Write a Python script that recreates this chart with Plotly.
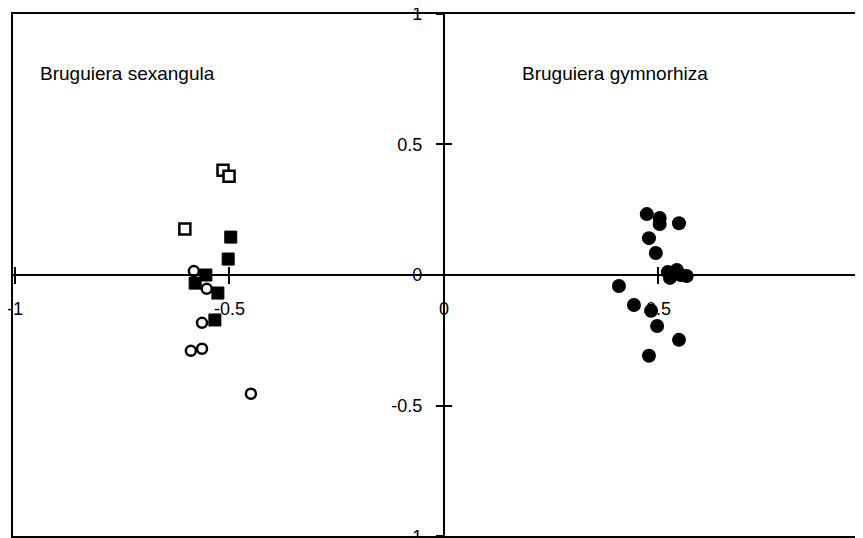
import plotly.graph_objects as go

# ---- data ----
open_sq_x = [-0.515, -0.501, -0.604]
open_sq_y = [0.401, 0.378, 0.176]

filled_sq_x = [-0.497, -0.503, -0.555, -0.580, -0.527, -0.534]
filled_sq_y = [0.145, 0.061, 0.000, -0.031, -0.069, -0.172]

open_circ_x = [-0.583, -0.553, -0.564, -0.590, -0.564, -0.450]
open_circ_y = [0.015, -0.053, -0.183, -0.290, -0.282, -0.454]

filled_circ_x = [0.473, 0.503, 0.503, 0.548, 0.478, 0.494, 0.522, 0.543, 0.552,
                 0.566, 0.527, 0.408, 0.443, 0.483, 0.497, 0.548, 0.478]
filled_circ_y = [0.233, 0.218, 0.195, 0.198, 0.141, 0.084, 0.011, 0.019, 0.000,
                 -0.004, -0.011, -0.042, -0.115, -0.137, -0.195, -0.248, -0.309]

x_tickvals = [-1, -0.5, 0, 0.5]
x_ticktext = ["-1", "-0.5", "0", "0.5"]
y_tickvals = [-1, -0.5, 0, 0.5, 1]
y_ticktext = ["-1", "-0.5", "0", "0.5", "1"]

group_labels = ["Bruguiera sexangula", "Bruguiera gymnorhiza"]

XR = [-1.007, 0.977]
YR = [-1.002, 1.002]
FONT = "Liberation Sans, Arial, sans-serif"

fig = go.Figure()

fig.add_trace(go.Scatter(x=open_sq_x, y=open_sq_y, mode="markers",
                         marker=dict(symbol="square", size=11, color="white",
                                     line=dict(color="black", width=2.5))))
fig.add_trace(go.Scatter(x=filled_sq_x, y=filled_sq_y, mode="markers",
                         marker=dict(symbol="square", size=12, color="black",
                                     line=dict(color="black", width=1))))
fig.add_trace(go.Scatter(x=open_circ_x, y=open_circ_y, mode="markers",
                         marker=dict(symbol="circle", size=10, color="white",
                                     line=dict(color="black", width=2.5))))
fig.add_trace(go.Scatter(x=filled_circ_x, y=filled_circ_y, mode="markers",
                         marker=dict(symbol="circle", size=14, color="black",
                                     line=dict(color="black", width=0))))
# dummy trace for the overlay axes that draw the other half of the crossing ticks
fig.add_trace(go.Scatter(x=[None], y=[None], xaxis="x2", yaxis="y2",
                         mode="markers", hoverinfo="skip"))

tickfont = dict(family=FONT, size=18, color="black")

fig.update_layout(
    width=855, height=530,
    margin=dict(l=4, r=0, t=5, b=1, autoexpand=False),
    paper_bgcolor="white", plot_bgcolor="white",
    showlegend=False,
    xaxis=dict(range=XR, anchor="free", position=0.5, showgrid=False, zeroline=False,
               showline=True, linecolor="black", linewidth=2, automargin=False,
               tickmode="array", tickvals=x_tickvals, ticktext=x_ticktext,
               ticks="outside", ticklen=8, tickwidth=2, tickcolor="black",
               tickfont=tickfont, ticklabelstandoff=9, ticklabeloverflow="allow"),
    yaxis=dict(range=YR, anchor="free", position=1.007 / 1.984, showgrid=False,
               zeroline=False, showline=True, linecolor="black", linewidth=2,
               automargin=False,
               tickmode="array", tickvals=y_tickvals, ticktext=y_ticktext,
               ticks="outside", ticklen=7, tickwidth=2, tickcolor="black",
               tickfont=tickfont, ticklabelstandoff=10, ticklabeloverflow="allow"),
    xaxis2=dict(range=XR, overlaying="x", anchor="free", position=0.5,
                showgrid=False, zeroline=False, showline=False, automargin=False,
                tickmode="array", tickvals=x_tickvals,
                ticks="inside", ticklen=8, tickwidth=2, tickcolor="black",
                showticklabels=False),
    yaxis2=dict(range=YR, overlaying="y", anchor="free", position=1.007 / 1.984,
                showgrid=False, zeroline=False, showline=False, automargin=False,
                tickmode="array", tickvals=y_tickvals,
                ticks="inside", ticklen=7, tickwidth=2, tickcolor="black",
                showticklabels=False),
    shapes=[dict(type="rect", xref="paper", yref="paper", x0=0, x1=1.05, y0=0, y1=1,
                 line=dict(color="black", width=2), fillcolor="rgba(0,0,0,0)")],
    annotations=[
        dict(text=group_labels[0], xref="paper", yref="paper", x=0.0306, y=0.885,
             xanchor="left", yanchor="middle", showarrow=False,
             font=dict(family=FONT, size=19, color="black")),
        dict(text=group_labels[1], xref="paper", yref="paper", x=0.597, y=0.885,
             xanchor="left", yanchor="middle", showarrow=False,
             font=dict(family=FONT, size=19, color="black")),
    ],
)

fig.write_html("out.html")
